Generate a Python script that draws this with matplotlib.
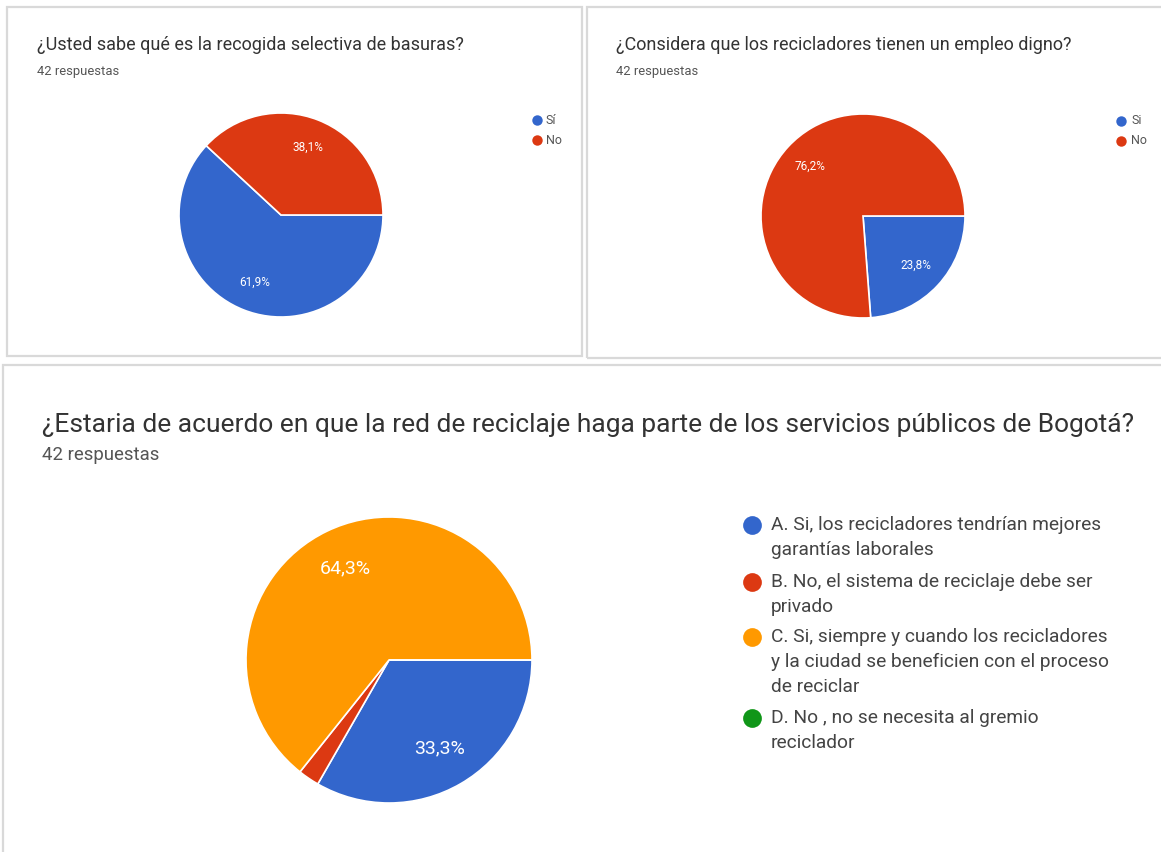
import matplotlib
matplotlib.use("Agg")
import matplotlib.pyplot as plt
from matplotlib.patches import Rectangle
from matplotlib.lines import Line2D

plt.rcParams['font.family'] = ['Roboto', 'DejaVu Sans']

# ---------------- data ----------------
q1_title = "¿Usted sabe qué es la recogida selectiva de basuras?"
q1_labels = ["Sí", "No"]
q1_values = [61.9, 38.1]

q2_title = "¿Considera que los recicladores tienen un empleo digno?"
q2_labels = ["Si", "No"]
q2_values = [23.8, 76.2]

q3_title = "¿Estaria de acuerdo en que la red de reciclaje haga parte de los servicios públicos de Bogotá?"
q3_labels = ["A. Si, los recicladores tendrían mejores\ngarantías laborales",
             "B. No, el sistema de reciclaje debe ser\nprivado",
             "C. Si, siempre y cuando los recicladores\ny la ciudad se beneficien con el proceso\nde reciclar",
             "D. No , no se necesita al gremio\nreciclador"]
q3_values = [33.3, 2.4, 64.3, 0.0]

responses = "42 respuestas"

colors = ["#3366CC", "#DC3912", "#FF9900", "#109618"]

W, H = 1161, 852
fig = plt.figure(figsize=(W / 100, H / 100), dpi=100)
fig.patch.set_facecolor("white")


def fx(x):
    return x / W


def fy(y):
    return 1 - y / H


def panel(x0, y0, x1, y1):
    fig.patches.append(Rectangle((fx(x0), fy(y1)), (x1 - x0) / W, (y1 - y0) / H,
                                 transform=fig.transFigure, fill=False,
                                 edgecolor="#d9d9d9", linewidth=1.6))


def pie_axes(cx, cy, r):
    ax = fig.add_axes([(cx - r) / W, 1 - (cy + r) / H, 2 * r / W, 2 * r / H])
    return ax


def fmt(p):
    return ("%.1f%%" % p).replace(".", ",") if p >= 5 else ""


def draw_pie(ax, vals, fs):
    ax.pie(vals, colors=colors[:len(vals)], startangle=0, counterclock=False,
           radius=1, autopct=fmt, pctdistance=0.71,
           wedgeprops=dict(edgecolor="white", linewidth=1.2),
           textprops=dict(color="white", fontsize=fs))
    ax.set_xlim(-1.0, 1.0)
    ax.set_ylim(-1.0, 1.0)
    ax.set_aspect("equal")
    ax.axis("off")


def dot(x, y, color, size):
    fig.add_artist(Line2D([fx(x)], [fy(y)], marker="o", markersize=size,
                          color=color, markeredgewidth=0,
                          transform=fig.transFigure))


# panels
panel(7, 7, 582, 356)
panel(587, 7, 1175, 358)
panel(3, 365, 1175, 870)

# ---- panel 1 ----
fig.text(fx(37), fy(45), q1_title, fontsize=13, color="#333333", va="center")
fig.text(fx(37), fy(71), responses, fontsize=9.4, color="#555555", va="center")
ax1 = pie_axes(281, 215, 102)
draw_pie(ax1, q1_values, 8.5)
for i, lab in enumerate(q1_labels):
    y = 120 + 20 * i
    dot(537, y, colors[i], 7.5)
    fig.text(fx(546), fy(y), lab, fontsize=9, color="#555555", va="center")

# ---- panel 2 ----
fig.text(fx(616), fy(45), q2_title, fontsize=13, color="#333333", va="center")
fig.text(fx(616), fy(71), responses, fontsize=9.4, color="#555555", va="center")
ax2 = pie_axes(863, 216, 102)
draw_pie(ax2, q2_values, 8.5)
for i, lab in enumerate(q2_labels):
    y = 121 + 20 * i
    dot(1121, y, colors[i], 7.5)
    fig.text(fx(1131), fy(y), lab, fontsize=9, color="#555555", va="center")

# ---- panel 3 ----
fig.text(fx(42), fy(425), q3_title, fontsize=19, color="#333333", va="center")
fig.text(fx(42), fy(455), responses, fontsize=13.4, color="#555555", va="center")
ax3 = pie_axes(389, 660, 143)
draw_pie(ax3, q3_values, 14)
ys = [525, 582, 637, 718]
for i, lab in enumerate(q3_labels):
    y = ys[i]
    dot(752, y, colors[i], 13.5)
    fig.text(fx(771), fy(y - 9), lab, fontsize=13.8, color="#444444", va="top",
             linespacing=1.5)

fig.savefig("out.png", dpi=100, facecolor="white")
